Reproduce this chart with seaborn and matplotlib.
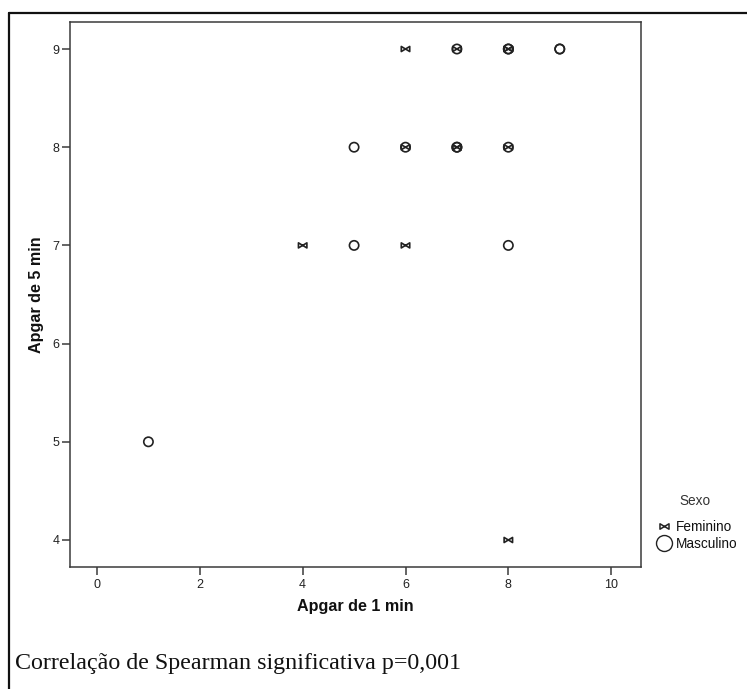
import numpy as np
import pandas as pd
import matplotlib
matplotlib.use("Agg")
import matplotlib.pyplot as plt
from matplotlib.path import Path
from matplotlib.lines import Line2D
import seaborn as sns

# ---- data (overlapping points drawn on top of each other) ----
apgar1_fem = [6, 7, 8, 8, 6, 7, 7, 8, 4, 6, 8]
apgar5_fem = [9, 9, 9, 9, 8, 8, 8, 8, 7, 7, 4]
apgar1_masc = [7, 8, 8, 9, 9, 5, 6, 7, 7, 8, 5, 8, 1]
apgar5_masc = [9, 9, 9, 9, 9, 8, 8, 8, 8, 8, 7, 7, 5]
sexo_labels = ["Feminino", "Masculino"]
x_ticks = [0, 2, 4, 6, 8, 10]
y_ticks = [4, 5, 6, 7, 8, 9]

df = pd.DataFrame({
    "Apgar de 1 min": apgar1_fem + apgar1_masc,
    "Apgar de 5 min": apgar5_fem + apgar5_masc,
    "Sexo": [sexo_labels[0]] * len(apgar1_fem) + [sexo_labels[1]] * len(apgar1_masc),
})

bowtie = Path([(-1, 0.6), (-1, -0.6), (1, 0.6), (1, -0.6), (-1, 0.6)],
              [Path.MOVETO, Path.LINETO, Path.LINETO, Path.LINETO, Path.CLOSEPOLY])

sns.set_theme(style="white")
plt.rcParams["font.family"] = ["Liberation Sans", "DejaVu Sans"]

W, H = 747, 689
fig = plt.figure(figsize=(W / 100, H / 100), dpi=100)
ax = fig.add_axes([70 / W, 1 - 567 / H, (641 - 70) / W, (567 - 22) / H])

fem = df[df["Sexo"] == "Feminino"]
masc = df[df["Sexo"] == "Masculino"]
sns.scatterplot(data=fem, x="Apgar de 1 min", y="Apgar de 5 min", marker=bowtie,
                s=37, facecolor="none", edgecolor="#222222", linewidth=1.2,
                legend=False, ax=ax, zorder=3)
sns.scatterplot(data=masc, x="Apgar de 1 min", y="Apgar de 5 min", marker="o",
                s=45, facecolor="none", edgecolor="#222222", linewidth=1.2,
                legend=False, ax=ax, zorder=3)

ax.set_xlim(-0.525, 10.58)
ax.set_ylim(3.725, 9.275)
ax.set_xticks(x_ticks)
ax.set_yticks(y_ticks)
ax.tick_params(axis="both", which="major", direction="out", length=5.5, width=1.1,
               color="#3a3a3a", labelsize=9, labelcolor="#222222",
               bottom=True, left=True)
ax.tick_params(axis="y", pad=2)
ax.tick_params(axis="x", pad=3)
for sp in ax.spines.values():
    sp.set_color("#3a3a3a")
    sp.set_linewidth(1.1)
    sp.set_visible(True)

ax.set_xlabel("Apgar de 1 min", fontsize=11.6, fontweight="bold", color="#111111")
ax.set_ylabel("Apgar de 5 min", fontsize=11.6, fontweight="bold", color="#111111")
ax.xaxis.set_label_coords(0.5, -0.058)
ax.yaxis.set_label_coords((44 - 70) / (641 - 70), 0.5)

# legend
handles = [
    Line2D([], [], marker=bowtie, linestyle="none", markersize=6.5,
           markerfacecolor="none", markeredgecolor="#222222", markeredgewidth=1.1),
    Line2D([], [], marker="o", linestyle="none", markersize=11.5,
           markerfacecolor="none", markeredgecolor="#222222", markeredgewidth=1.0),
]
leg = fig.legend(handles, sexo_labels, loc="center left",
                 bbox_to_anchor=(656 / W, 1 - 535.5 / H), frameon=False,
                 fontsize=9.8, handlelength=1.2, handleheight=0.7,
                 handletextpad=0.28, labelspacing=0.25, borderpad=0.0,
                 borderaxespad=0.0)
for t in leg.get_texts():
    t.set_color("#111111")
fig.text(695 / W, 1 - 501 / H, "Sexo", fontsize=9.8, color="#333333",
         ha="center", va="center")

# footer
fig.text(15 / W, 1 - 669 / H, "Correlação de Spearman significativa p=0,001",
         fontsize=17.3, family=["Liberation Serif", "DejaVu Serif"], va="baseline",
         ha="left", color="#111111")

# outer frame lines (top and left)
fig.add_artist(Line2D([9 / W, 9 / W], [0, 1 - 13 / H], transform=fig.transFigure,
                      color="#111111", linewidth=1.6))
fig.add_artist(Line2D([9 / W, 1], [1 - 13 / H, 1 - 13 / H], transform=fig.transFigure,
                      color="#111111", linewidth=1.6))

fig.savefig("out.png", dpi=100)
